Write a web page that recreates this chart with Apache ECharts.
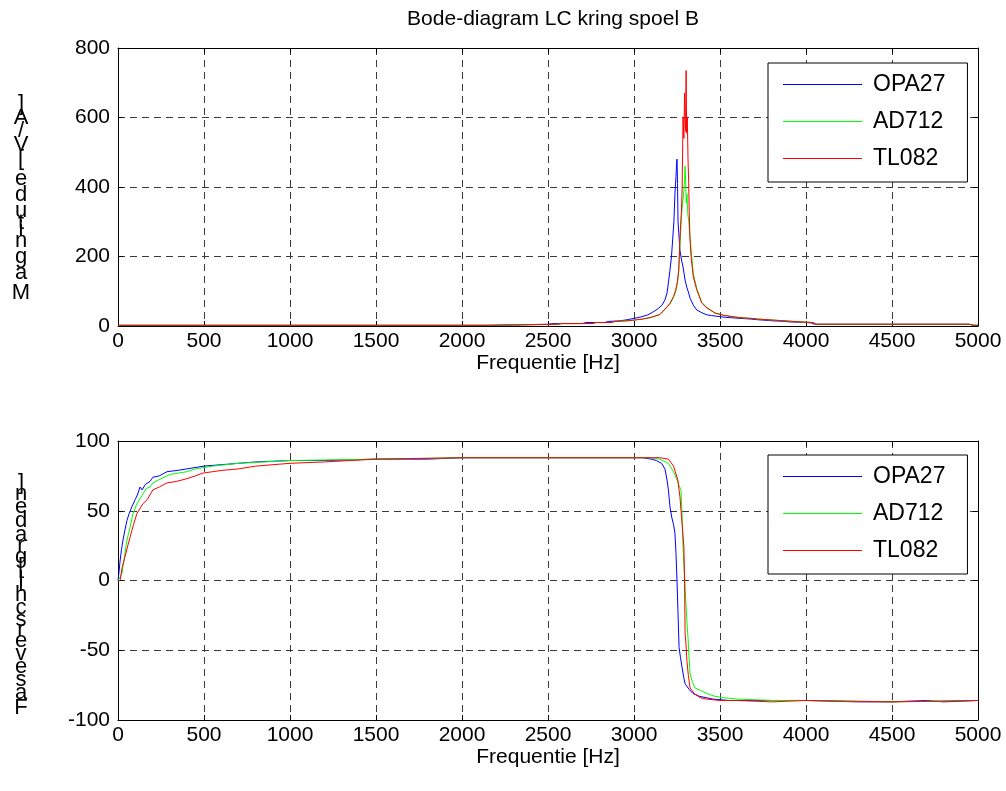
<!DOCTYPE html>
<html>
<head>
<meta charset="utf-8">
<script src="https://cdn.jsdelivr.net/npm/echarts@6/dist/echarts.min.js"></script>
<style>html,body{margin:0;padding:0;background:#fff}#c{width:1006px;height:791px}</style>
</head>
<body>
<div id="c"></div>
<script>
// ---------- DATA ----------
const seriesNames = ['OPA27', 'AD712', 'TL082'];
const xTicks = [0, 500, 1000, 1500, 2000, 2500, 3000, 3500, 4000, 4500, 5000];
const magTicks = [0, 200, 400, 600, 800];
const phaseTicks = [-100, -50, 0, 50, 100];

// Magnitude (top)
const opa27MagF = [0,2150,2160,2500,2520,2700,2720,2830,2850,2920,2960,3000,3040,3080,3110,3140,3163,3180,3192,3200,3209,3218,3225,3232,3238,3244,3248,3250,3253,3256,3260,3267,3276,3285,3297,3308,3318,3326,3345,3365,3395,3424,3450,3482,3530,3560,3616,3680,3720,3780,3800,3850,3900,3950,4000,4030,4050,4950,4970,5000];
const opa27MagV = [2,2,5,5,7,7,10,10,13,15,18,22,26,32,40,50,60,75,95,124,160,200,250,300,380,430,470,480,410,300,270,219,190,170,132,110,95,80,60,46,38,32,30,28,25,24,22,20,18,16,15,14,12,11,10,9,5,5,2,2];

const ad712MagF = [0,2180,2190,2560,2580,2760,2780,2870,2890,2960,3000,3050,3100,3150,3192,3210,3230,3243,3253,3260,3266,3272,3278,3284,3290,3294,3297,3300,3304,3308,3313,3318,3325,3332,3345,3365,3394,3424,3471,3520,3558,3616,3680,3720,3780,3840,3900,3960,4000,4040,4060,4950,4980,5000];
const ad712MagV = [2,2,5,5,7,7,10,10,13,15,17,20,25,33,54,64,82,100,125,155,220,280,330,360,390,430,460,420,354,380,320,305,260,221,150,108,68,53,38,31,28,24,22,20,18,16,14,12,11,10,5,5,2,2];

const tl082MagF = [0,2180,2190,2560,2580,2760,2780,2870,2890,2960,3000,3050,3100,3150,3192,3210,3230,3243,3253,3260,3266,3271,3276,3280,3285,3290,3294,3297,3300,3303,3306,3310,3314,3318,3321,3325,3332,3345,3365,3394,3424,3471,3520,3558,3616,3680,3720,3780,3840,3900,3960,4000,4040,4060,4950,4980,5000];
const tl082MagV = [2,2,5,5,7,7,10,10,13,15,17,20,25,33,55,66,85,104,130,161,238,290,334,400,601,540,670,600,560,735,555,600,480,412,330,256,198,141,104,66,52,37,31,28,24,22,20,18,16,14,12,11,10,5,5,2,2];

// Phase (bottom)
const opa27PhF = [0,5,12,20,29,40,52,65,81,100,115,128,140,160,186,203,240,285,350,400,500,600,700,800,1000,1200,1500,1800,2000,2500,2800,3000,3050,3100,3130,3160,3180,3192,3200,3209,3220,3230,3238,3244,3250,3255,3262,3270,3279,3290,3297,3320,3343,3380,3459,3550,3700,4000,4300,4500,4700,4800,5000];
const opa27PhV = [0,5,14,22,29,36,43,48,53,58,62,67,65,69,71,74,75,78,79,80,82,83,84,85,86,86,87,87,88,88,88,88,88,87,86,84,80,72,65,53,45,40,34,20,0,-20,-48,-55,-62,-70,-74,-78,-81,-83,-85,-86,-86,-86,-87,-87,-86,-87,-86];

const ad712PhF = [0,10,23,35,52,70,87,110,145,165,186,203,250,302,400,450,550,700,850,1000,1500,2000,2500,3000,3100,3150,3200,3230,3250,3262,3273,3280,3285,3293,3302,3308,3314,3320,3326,3340,3355,3390,3424,3470,3517,3600,3800,4000,4500,5000];
const ad712PhV = [0,2,5,15,29,38,48,55,62,66,67,70,73,76,78,80,82,84,85,86,87,88,88,88,88,87,84,78,72,68,65,45,24,5,-17,-30,-41,-55,-67,-73,-77,-79,-81,-83,-84,-85,-86,-86,-87,-86];

const tl082PhF = [0,12,25,41,55,70,90,110,130,145,170,203,240,285,340,401,450,494,550,610,700,800,1000,1200,1500,2000,2500,3000,3100,3150,3200,3230,3255,3267,3280,3290,3294,3297,3302,3308,3316,3326,3350,3384,3420,3500,3600,3800,4000,4500,5000];
const tl082PhV = [0,0,10,17,24,31,40,48,52,55,58,65,67,70,71,73,75,77,78,79,80,82,84,85,87,88,88,88,88,88,87,82,72,60,40,24,0,-38,-45,-58,-68,-77,-81,-84,-85,-86,-86,-87,-86,-87,-86];

const titleText = 'Bode-diagram LC kring spoel B';
const xName = 'Frequentie [Hz]';
const magName = 'Magnitude [V/A]';
const phaseName = 'Faseverschil [graden]';

// ---------- CHART ----------
const FONT = "'Liberation Sans', Arial, sans-serif";
const colors = ['#0000ff', '#00ff00', '#ff0000'];
const zip = (f, v) => f.map((x, i) => [x, v[i]]);

const magData = [zip(opa27MagF, opa27MagV), zip(ad712MagF, ad712MagV), zip(tl082MagF, tl082MagV)];
const phData = [zip(opa27PhF, opa27PhV), zip(ad712PhF, ad712PhV), zip(tl082PhF, tl082PhV)];

const gridLine = { show: true, lineStyle: { color: '#3a3a3a', type: [7, 5], width: 1 } };
const axisLineBlack = { show: true, onZero: false, lineStyle: { color: '#000', width: 1 } };
const tickFmt = v => String(v);
const TICK_FS = 21;

function xAxisPair(gi) {
  return [
    { type: 'value', gridIndex: gi, min: xTicks[0], max: xTicks[xTicks.length - 1], interval: xTicks[1] - xTicks[0], position: 'bottom',
      name: xName, nameLocation: 'middle', nameGap: 26,
      nameTextStyle: { fontFamily: FONT, fontSize: 21, color: '#000' },
      axisLine: axisLineBlack, axisTick: { inside: true, length: 5, lineStyle: { color: '#000' } },
      axisLabel: { fontFamily: FONT, fontSize: TICK_FS, color: '#000', margin: 5, formatter: tickFmt },
      splitLine: gridLine },
    { type: 'value', gridIndex: gi, min: xTicks[0], max: xTicks[xTicks.length - 1], interval: xTicks[1] - xTicks[0], position: 'top',
      axisLine: axisLineBlack, axisTick: { inside: true, length: 5, lineStyle: { color: '#000' } },
      axisLabel: { show: false }, splitLine: { show: false } }
  ];
}
function yAxisPair(gi, ticks) {
  const min = ticks[0], max = ticks[ticks.length - 1], interval = ticks[1] - ticks[0];
  return [
    { type: 'value', gridIndex: gi, min, max, interval, position: 'left',
      axisLine: axisLineBlack, axisTick: { inside: true, length: 5, lineStyle: { color: '#000' } },
      axisLabel: { fontFamily: FONT, fontSize: TICK_FS, color: '#000', margin: 8, formatter: tickFmt },
      splitLine: gridLine },
    { type: 'value', gridIndex: gi, min, max, interval, position: 'right',
      axisLine: axisLineBlack, axisTick: { inside: true, length: 5, lineStyle: { color: '#000' } },
      axisLabel: { show: false }, splitLine: { show: false } }
  ];
}

const series = [];
seriesNames.forEach((n, i) => {
  series.push({ name: n, type: 'line', xAxisIndex: 0, yAxisIndex: 0, data: magData[i],
    symbol: 'none', lineStyle: { color: colors[i], width: 1 }, itemStyle: { color: colors[i] },
    animation: false, z: 2 + i });
});
seriesNames.forEach((n, i) => {
  series.push({ name: n, type: 'line', xAxisIndex: 2, yAxisIndex: 2, data: phData[i],
    symbol: 'none', lineStyle: { color: colors[i], width: 1 }, itemStyle: { color: colors[i] },
    animation: false, z: 2 + i });
});

function legendAt(top) {
  return { orient: 'vertical', left: 768, top: top,
    padding: [10, 22, 12, 15], itemWidth: 79, itemHeight: 1, itemGap: 14,
    icon: 'rect',
    itemStyle: { borderWidth: 0 },
    lineStyle: { width: 0 },
    borderColor: '#000', borderWidth: 1, backgroundColor: '#fff',
    textStyle: { fontFamily: FONT, fontSize: 23, color: '#000', padding: [0, 0, 0, 6] },
    data: seriesNames };
}

// stacked (unrotated) characters, as in the reference's y labels
function stackedLabel(text, cx, yTop, yBottom, fontSize) {
  const ctx = document.createElement('canvas').getContext('2d');
  ctx.font = fontSize + 'px ' + FONT;
  const chars = text.split('').reverse();
  const w = chars.map(c => Math.max(ctx.measureText(c).width, 3));
  const total = w.reduce((a, b) => a + b, 0);
  const scale = (yBottom - yTop) / total;
  const els = [];
  let acc = 0;
  chars.forEach((c, i) => {
    const cy = yTop + (acc + w[i] / 2) * scale;
    acc += w[i];
    els.push({ type: 'text', x: cx, y: cy,
      style: { text: c, fill: '#000', font: fontSize + 'px ' + FONT, textAlign: 'center', textVerticalAlign: 'middle' } });
  });
  return els;
}

const chart = echarts.init(document.getElementById('c'), null, { renderer: 'canvas' });
chart.setOption({
  backgroundColor: '#fff',
  animation: false,
  title: { text: titleText, left: 548, top: 4, textAlign: 'center',
    textStyle: { fontFamily: FONT, fontSize: 21, fontWeight: 'normal', color: '#000' } },
  grid: [
    { left: 118, right: 28, top: 48, height: 278 },
    { left: 118, right: 28, top: 441, height: 279 }
  ],
  xAxis: [...xAxisPair(0), ...xAxisPair(1)],
  yAxis: [...yAxisPair(0, magTicks), ...yAxisPair(1, phaseTicks)],
  legend: [legendAt(63), legendAt(455)],
  series: series,
  graphic: [...stackedLabel(magName, 21, 100, 305, 22), ...stackedLabel(phaseName, 21, 480, 715, 22)]
});
</script>
</body>
</html>
